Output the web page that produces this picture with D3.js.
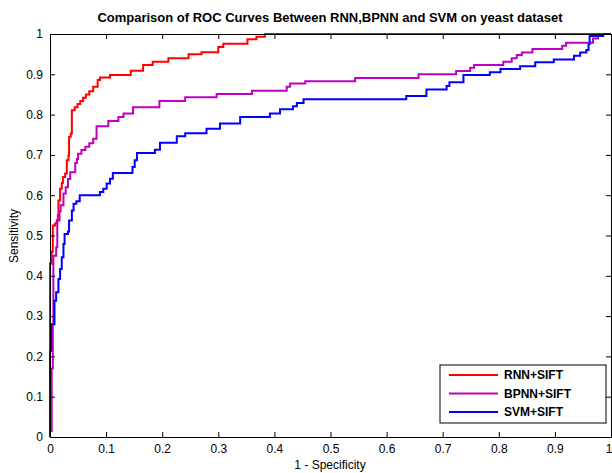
<!DOCTYPE html>
<html>
<head>
<meta charset="utf-8">
<script src="https://cdn.jsdelivr.net/npm/d3@7"></script>
<style>
  body { margin: 0; background: #fff; }
  text { font-family: "Liberation Sans", Arial, sans-serif; }
  .axis path, .axis line { stroke: #000; }
  .axis text { font-size: 12px; fill: #000; }
</style>
</head>
<body>
<svg class="roc" width="612" height="473"></svg>
<script>
// ROC points: [1 - specificity, sensitivity], each point is where the step lands
var rnnSift = [
  [0, 0], [0, 0.43], [0.003, 0.46], [0.005, 0.525], [0.009, 0.53], [0.012, 0.537],
  [0.014, 0.55], [0.015, 0.587], [0.018, 0.616], [0.021, 0.63], [0.023, 0.645],
  [0.027, 0.654], [0.03, 0.687], [0.033, 0.699], [0.034, 0.745], [0.037, 0.753],
  [0.039, 0.811], [0.044, 0.818], [0.049, 0.826], [0.054, 0.834], [0.059, 0.842],
  [0.064, 0.85], [0.07, 0.858], [0.077, 0.869], [0.085, 0.886], [0.089, 0.892],
  [0.107, 0.898], [0.144, 0.909], [0.166, 0.923], [0.183, 0.931], [0.211, 0.94],
  [0.247, 0.95], [0.27, 0.955], [0.3, 0.968], [0.309, 0.976], [0.352, 0.987],
  [0.368, 0.993], [0.383, 1], [1, 1]
];

var bpnnSift = [
  [0, 0], [0, 0.015], [0.003, 0.17], [0.005, 0.28], [0.006, 0.45], [0.011, 0.471],
  [0.013, 0.537], [0.017, 0.56], [0.019, 0.575], [0.024, 0.604], [0.028, 0.62],
  [0.032, 0.64], [0.036, 0.657], [0.045, 0.68], [0.048, 0.69], [0.05, 0.703],
  [0.056, 0.712], [0.063, 0.72], [0.07, 0.729], [0.077, 0.74], [0.083, 0.771],
  [0.104, 0.784], [0.122, 0.794], [0.131, 0.803], [0.148, 0.818], [0.195, 0.834],
  [0.241, 0.843], [0.297, 0.851], [0.36, 0.859], [0.422, 0.869], [0.428, 0.877],
  [0.455, 0.883], [0.544, 0.891], [0.657, 0.9], [0.724, 0.908], [0.749, 0.916],
  [0.756, 0.923], [0.808, 0.931], [0.823, 0.94], [0.832, 0.948], [0.841, 0.954],
  [0.86, 0.963], [0.913, 0.971], [0.92, 0.978], [0.968, 0.989], [0.977, 0.995],
  [0.986, 1], [1, 1]
];

var svmSift = [
  [0, 0], [0, 0.03], [0, 0.214], [0.002, 0.28], [0.008, 0.338], [0.011, 0.359],
  [0.015, 0.392], [0.018, 0.417], [0.021, 0.446], [0.024, 0.479], [0.026, 0.504],
  [0.032, 0.51], [0.034, 0.537], [0.039, 0.562], [0.042, 0.579], [0.047, 0.585],
  [0.053, 0.6], [0.089, 0.608], [0.095, 0.616], [0.101, 0.629], [0.107, 0.641],
  [0.112, 0.655], [0.147, 0.67], [0.151, 0.687], [0.155, 0.705], [0.187, 0.713],
  [0.196, 0.73], [0.226, 0.746], [0.241, 0.754], [0.279, 0.765], [0.303, 0.778],
  [0.339, 0.794], [0.392, 0.803], [0.41, 0.813], [0.433, 0.821], [0.44, 0.829],
  [0.452, 0.838], [0.635, 0.846], [0.671, 0.862], [0.707, 0.871], [0.712, 0.88],
  [0.737, 0.898], [0.784, 0.905], [0.803, 0.913], [0.838, 0.92], [0.865, 0.93],
  [0.898, 0.937], [0.934, 0.946], [0.945, 0.954], [0.956, 0.96], [0.96, 0.975],
  [0.962, 0.995], [0.986, 1], [1, 1]
];

var seriesNames  = ["RNN+SIFT", "BPNN+SIFT", "SVM+SIFT"];
var seriesColors = ["#ff0000", "#bf00bf", "#0000ff"];
var xTicks = [0, 0.1, 0.2, 0.3, 0.4, 0.5, 0.6, 0.7, 0.8, 0.9, 1];
var yTicks = [0, 0.1, 0.2, 0.3, 0.4, 0.5, 0.6, 0.7, 0.8, 0.9, 1];

var margin = {top: 34, right: 1, bottom: 36, left: 50};

var svg = d3.select(".roc"),
    width  = +svg.attr("width") - margin.left - margin.right,
    height = +svg.attr("height") - margin.top - margin.bottom;

svg.append("rect")
  .attr("width", +svg.attr("width"))
  .attr("height", +svg.attr("height"))
  .attr("fill", "#fff");

var chart = svg.append("g")
  .attr("transform", "translate(" + margin.left + "," + margin.top + ")");

var x = d3.scaleLinear().domain([0, 1]).range([0, width]);
var y = d3.scaleLinear().domain([0, 1]).range([height, 0]);

var fmt = function(d) { return d === 0 || d === 1 ? String(d) : d3.format(".1f")(d); };

var line = d3.line()
  .x(function(d) { return x(d[0]); })
  .y(function(d) { return y(d[1]); })
  .curve(d3.curveStepAfter);

// curves first, MATLAB-style box drawn over them
[rnnSift, bpnnSift, svmSift].forEach(function(data, i) {
  chart.append("path")
    .datum(data)
    .attr("fill", "none")
    .attr("stroke", seriesColors[i])
    .attr("stroke-width", 2)
    .attr("d", line);
});

// bottom + left axes with labels, ticks pointing inward
var xAxis = chart.append("g")
  .attr("class", "axis")
  .attr("transform", "translate(0," + height + ")")
  .call(d3.axisBottom(x).tickValues(xTicks).tickFormat(fmt).tickSize(-5).tickPadding(7));

// the "1" sits on the page edge, keep it inside
xAxis.selectAll(".tick text")
  .filter(function(d) { return d === 1; })
  .attr("text-anchor", "end")
  .attr("x", 1);

chart.append("g")
  .attr("class", "axis")
  .call(d3.axisLeft(y).tickValues(yTicks).tickFormat(fmt).tickSize(-5).tickPadding(7));

// top + right axes, ticks only
chart.append("g")
  .attr("class", "axis")
  .call(d3.axisTop(x).tickValues(xTicks).tickFormat("").tickSize(-5));

chart.append("g")
  .attr("class", "axis")
  .attr("transform", "translate(" + width + ",0)")
  .call(d3.axisRight(y).tickValues(yTicks).tickFormat("").tickSize(-5));

chart.selectAll(".axis path").attr("stroke-width", 1);

// titles
svg.append("text")
  .attr("x", 330)
  .attr("y", 22)
  .attr("text-anchor", "middle")
  .style("font-size", "13px")
  .style("font-weight", "bold")
  .text("Comparison of ROC Curves Between RNN,BPNN and SVM on yeast dataset");

svg.append("text")
  .attr("x", 330)
  .attr("y", 469)
  .attr("text-anchor", "middle")
  .style("font-size", "12px")
  .text("1 - Specificity");

svg.append("text")
  .attr("transform", "translate(18,236) rotate(-90)")
  .attr("text-anchor", "middle")
  .style("font-size", "12px")
  .text("Sensitivity");

// legend
var legend = svg.append("g")
  .attr("transform", "translate(440,365)");

legend.append("rect")
  .attr("width", 166)
  .attr("height", 58)
  .attr("fill", "#fff")
  .attr("stroke", "#000")
  .attr("stroke-width", 1);

var item = legend.selectAll(".item")
  .data(seriesNames)
  .enter().append("g")
  .attr("class", "item")
  .attr("transform", function(d, i) { return "translate(0," + (10 + i * 18.5) + ")"; });

item.append("line")
  .attr("x1", 9)
  .attr("x2", 58)
  .attr("stroke", function(d, i) { return seriesColors[i]; })
  .attr("stroke-width", 2);

item.append("text")
  .attr("x", 64)
  .attr("dy", "0.36em")
  .style("font-size", "12px")
  .style("font-weight", "bold")
  .text(function(d) { return d; });
</script>
</body>
</html>
